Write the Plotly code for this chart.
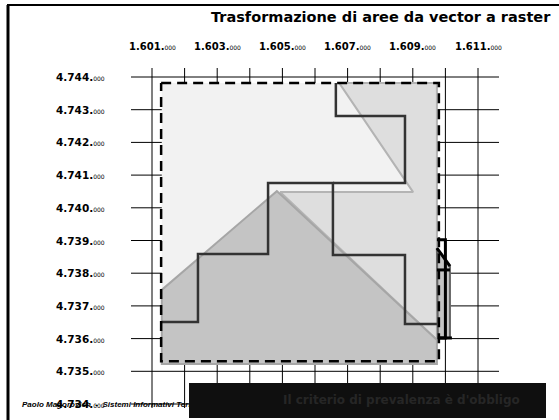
import plotly.graph_objects as go

# ---------------- data ----------------
title_text = "Trasformazione di aree da vector a raster"
box_text = "Il criterio di prevalenza è d'obbligo"
footer_text = "Paolo Magorovich  -  Sistemi Informativi Territoriali"

grid_x = [1601000, 1602000, 1603000, 1604000, 1605000, 1606000,
          1607000, 1608000, 1609000, 1610000, 1611000]
grid_y = [4734000, 4735000, 4736000, 4737000, 4738000, 4739000,
          4740000, 4741000, 4742000, 4743000, 4744000]

x_tick_vals = [1601000, 1603000, 1605000, 1607000, 1609000, 1611000]
x_tick_labels = ["1.601.000", "1.603.000", "1.605.000", "1.607.000", "1.609.000", "1.611.000"]
y_tick_vals = [4744000, 4743000, 4742000, 4741000, 4740000, 4739000,
               4738000, 4737000, 4736000, 4735000, 4734000]
y_tick_labels = ["4.744.000", "4.743.000", "4.742.000", "4.741.000", "4.740.000", "4.739.000",
                 "4.738.000", "4.737.000", "4.736.000", "4.735.000", "4.734.000"]

# raster extent (light background)
extent_x = [1601300, 1609740, 1609740, 1601300]
extent_y = [4743820, 4743820, 4735220, 4735220]

# dashed frame of the raster
frame_x = [1601280, 1609800, 1609800, 1601280, 1601280]
frame_y = [4743820, 4743820, 4735310, 4735310, 4743820]

# vector polygon B (medium light)
polyB_x = [1606740, 1609740, 1609740, 1604930, 1609010, 1606740]
polyB_y = [4743820, 4743820, 4735960, 4740480, 4740480, 4743820]

# vector polygon C (darker)
polyC_x = [1601300, 1604830, 1609740, 1609740, 1601300, 1601300]
polyC_y = [4737490, 4740510, 4735960, 4735220, 4735220, 4737490]

# small sliver outside the raster
sliver_x = [1609740, 1610140, 1610140, 1609770, 1609740]
sliver_y = [4738770, 4738220, 4736020, 4736020, 4738770]

# raster boundaries (stepped lines)
r1_x = [1601300, 1602410, 1602410, 1604560, 1604560, 1606550, 1606550, 1608760, 1608760, 1609740]
r1_y = [4736510, 4736510, 4738590, 4738590, 4740760, 4740760, 4738560, 4738560, 4736450, 4736450]
r2_x = [1606640, 1606640, 1608760, 1608760, 1606550]
r2_y = [4743820, 4742810, 4742810, 4740760, 4740760]
r3_x = [1609740, 1610000, 1610000, 1609770, None, 1609740, 1610140, None, 1609770, 1610200,
        None, 1609740, 1610140]
r3_y = [4739020, 4739020, 4736020, 4736020, None, 4738100, 4738100, None, 4736020, 4736020,
        None, 4738770, 4738220]

# ---------------- figure ----------------
W, H = 559, 420
X0, PX_X = 1601000, 32.6   # grid origin and pixels per km
Y0, PX_Y = 4744000, 32.7
PX0_X, PX0_Y = 152, 77
x_range = [X0 - PX0_X / PX_X * 1000, X0 + (W - PX0_X) / PX_X * 1000]
y_range = [Y0 - (H - PX0_Y) / PX_Y * 1000, Y0 + PX0_Y / PX_Y * 1000]

fig = go.Figure()

# grid lines
gx, gy = [], []
for v in grid_x:
    gx += [v, v, None]
    gy += [Y0 + 9 / PX_Y * 1000, grid_y[0] - 4 / PX_Y * 1000, None]
for v in grid_y:
    gx += [grid_x[0] - 21 / PX_X * 1000, grid_x[-1] + 21 / PX_X * 1000, None]
    gy += [v, v, None]
fig.add_trace(go.Scatter(x=gx, y=gy, mode="lines", line=dict(color="black", width=1),
                         hoverinfo="skip"))

fig.add_trace(go.Scatter(x=extent_x, y=extent_y, fill="toself", fillcolor="#f2f2f2",
                         mode="lines", line=dict(width=0), hoverinfo="skip"))
fig.add_trace(go.Scatter(x=polyB_x, y=polyB_y, fill="toself", fillcolor="#dedede",
                         mode="lines", line=dict(color="#b4b4b4", width=2), hoverinfo="skip"))
fig.add_trace(go.Scatter(x=polyC_x, y=polyC_y, fill="toself", fillcolor="#c4c4c4",
                         mode="lines", line=dict(color="#a6a6a6", width=2), hoverinfo="skip"))
fig.add_trace(go.Scatter(x=sliver_x, y=sliver_y, fill="toself", fillcolor="#c4c4c4",
                         mode="lines", line=dict(color="#666666", width=2), hoverinfo="skip"))

fig.add_trace(go.Scatter(x=r1_x, y=r1_y, mode="lines", line=dict(color="#333333", width=2.5),
                         hoverinfo="skip"))
fig.add_trace(go.Scatter(x=r2_x, y=r2_y, mode="lines", line=dict(color="#333333", width=2.5),
                         hoverinfo="skip"))
fig.add_trace(go.Scatter(x=r3_x, y=r3_y, mode="lines", line=dict(color="black", width=3),
                         hoverinfo="skip"))

fig.add_trace(go.Scatter(x=frame_x, y=frame_y, mode="lines",
                         line=dict(color="black", width=2.5, dash="10px,6px"), hoverinfo="skip"))

# footer text (as trace so the black box can cover it)
fig.add_trace(go.Scatter(x=[X0 - (PX0_X - 22) / PX_X * 1000], y=[grid_y[0] - 1 / PX_Y * 1000],
                         mode="text", text=["<b><i>" + footer_text + "</i></b>"],
                         textposition="middle right",
                         textfont=dict(family="Liberation Sans", size=8, color="black"),
                         hoverinfo="skip"))

annotations = []
for v, lab in zip(x_tick_vals, x_tick_labels):
    annotations.append(dict(
        x=v, y=Y0 + 31 / PX_Y * 1000, xref="x", yref="y", showarrow=False,
        xanchor="center", yanchor="middle",
        text="<b>" + lab[:-3] + "</b><span style='font-size:6px'>" + lab[-3:] + "</span>",
        font=dict(family="DejaVu Sans", size=10, color="black")))
for v, lab in zip(y_tick_vals, y_tick_labels):
    annotations.append(dict(
        x=X0 - 45 / PX_X * 1000, y=v, xref="x", yref="y", showarrow=False,
        xanchor="right", yanchor="middle",
        text="<b>" + lab[:-3] + "</b><span style='font-size:6px'>" + lab[-3:] + "</span>",
        font=dict(family="DejaVu Sans", size=10.5, color="black")))
annotations.append(dict(
    x=553 / W, y=1 - 17 / H, xref="paper", yref="paper", showarrow=False,
    xanchor="right", yanchor="middle", text="<b>" + title_text + "</b>",
    font=dict(family="DejaVu Sans", size=14.5, color="black")))
annotations.append(dict(
    x=522 / W, y=1 - 400 / H, xref="paper", yref="paper", showarrow=False,
    xanchor="right", yanchor="middle", text="<b>" + box_text + "</b>",
    font=dict(family="DejaVu Sans", size=12, color="#262626")))

shapes = [
    dict(type="line", xref="paper", yref="paper", x0=8 / W, x1=8 / W, y0=1 - 5 / H, y1=0,
         line=dict(color="black", width=3)),
    dict(type="line", xref="paper", yref="paper", x0=7 / W, x1=1, y0=1 - 5 / H, y1=1 - 5 / H,
         line=dict(color="black", width=2)),
    dict(type="rect", xref="paper", yref="paper", x0=189 / W, x1=546 / W,
         y0=1 - 418 / H, y1=1 - 383 / H, fillcolor="#0f0f0f", line=dict(width=0),
         layer="above"),
]

fig.update_layout(
    width=W, height=H, margin=dict(l=0, r=0, t=0, b=0),
    paper_bgcolor="white", plot_bgcolor="white", showlegend=False,
    xaxis=dict(range=x_range, visible=False, fixedrange=True),
    yaxis=dict(range=y_range, visible=False, fixedrange=True),
    annotations=annotations, shapes=shapes,
)

fig.write_html("out.html", config={"displayModeBar": False},
               post_script="document.body.style.margin='0px';document.body.style.overflow='hidden';")
